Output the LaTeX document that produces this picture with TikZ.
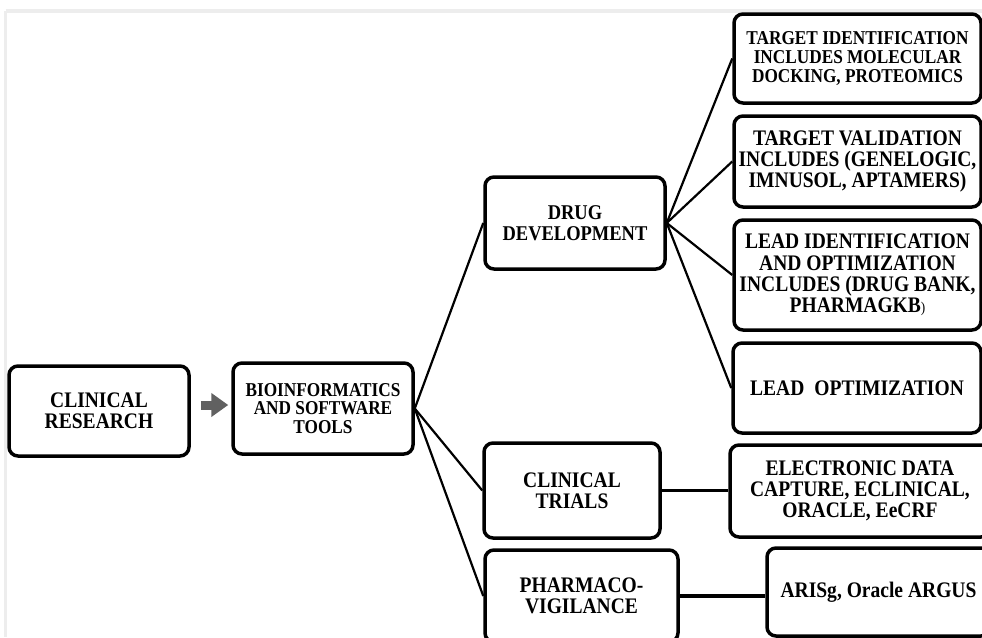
\documentclass[tikz,border=0pt]{standalone}
\usepackage{fontspec}
\setmainfont[FakeStretch=0.88]{Liberation Serif}
\usetikzlibrary{arrows.meta}

\begin{document}
\begin{tikzpicture}[x=1pt, y=-1pt,
  box/.style={draw, line width=3.5pt, rounded corners=9pt, align=center,
    inner sep=0pt, font=\bfseries\fontsize{22.2}{21.3}\selectfont},
  small/.style={font=\bfseries\fontsize{19.6}{18.6}\selectfont},
  mid/.style={font=\bfseries\fontsize{21}{21}\selectfont},
  link/.style={line width=2.2pt},
  rung/.style={line width=3.2pt},
  frameline/.style={draw=black!7, line width=3.5pt}]

\useasboundingbox[fill=white] (0,0) rectangle (982,637);

% faint page frame along the top and left
\draw[frameline] (5.5,11) -- (982,11);
\draw[frameline] (5.5,11) -- (5.5,637);

% first level
\node[box, minimum width=180pt, minimum height=90pt] (cr) at (99,411)
  {CLINICAL\\RESEARCH};
\node[box, small, minimum width=180pt, minimum height=91pt] (bio) at (323,408.5)
  {BIOINFORMATICS\\AND SOFTWARE\\TOOLS};

% second level
\node[box, mid, minimum width=180pt, minimum height=92pt] (drug) at (575,223)
  {DRUG\\DEVELOPMENT};
\node[box, minimum width=176pt, minimum height=95pt] (ct) at (572,490.5)
  {CLINICAL\\TRIALS};
\node[box, minimum width=193pt, minimum height=92pt] (pv) at (581.5,596)
  {PHARMACO-\\VIGILANCE};

% third level
\node[box, small, minimum width=247pt, minimum height=89pt] (ti) at (857.5,58.5)
  {TARGET IDENTIFICATION\\INCLUDES MOLECULAR\\DOCKING, PROTEOMICS};
\node[box, minimum width=247pt, minimum height=91pt] (tv) at (857.5,161.5)
  {TARGET VALIDATION\\INCLUDES (GENELOGIC,\\IMNUSOL, APTAMERS)};
\node[box, minimum width=247pt, minimum height=110pt] (li) at (857.5,275)
  {LEAD IDENTIFICATION\\AND OPTIMIZATION\\INCLUDES (DRUG BANK,\\PHARMAGKB{\mdseries\fontsize{15}{21}\selectfont)}};
\node[box, minimum width=248pt, minimum height=90pt] (lo) at (857,388)
  {LEAD\hspace{0.45em}OPTIMIZATION};
\node[box, minimum width=260pt, minimum height=92pt] (edc) at (860,491)
  {ELECTRONIC DATA\\CAPTURE, ECLINICAL,\\ORACLE, EeCRF};
\node[box, minimum width=223pt, minimum height=88pt] (ar) at (878.5,592)
  {ARISg, Oracle ARGUS};

% block arrow between the first two boxes
\draw[line width=9pt, draw=black!62,
  -{Triangle[length=17pt, width=23pt, fill=black!62]},
  shorten <=10pt, shorten >=3pt]
  ([yshift=6pt]cr.east) -- ([yshift=3.5pt]bio.west);

% branches
\draw[link] (bio.east) -- (drug.west);
\draw[link] (bio.east) -- (ct.west);
\draw[link] (bio.east) -- (pv.west);
\draw[link] (drug.east) -- (ti.west);
\draw[link] (drug.east) -- (tv.west);
\draw[link] (drug.east) -- (li.west);
\draw[link] (drug.east) -- (lo.west);
\draw[rung] (ct.east) -- (ct.east -| edc.west);
\draw[rung, line width=3.8pt] (pv.east) -- (pv.east -| ar.west);

\end{tikzpicture}
\end{document}
